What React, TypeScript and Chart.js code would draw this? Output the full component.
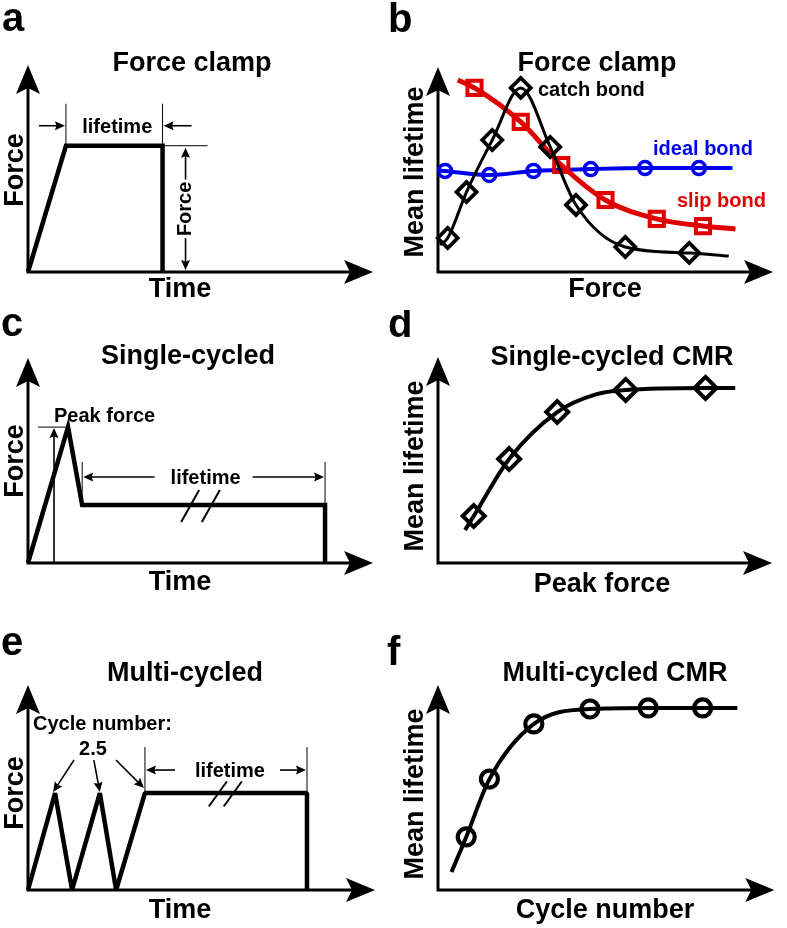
import React, { useEffect, useRef } from 'react';
import { Chart, registerables } from 'chart.js';

Chart.register(...registerables);

const FONT = '"Liberation Sans", Arial, Helvetica, sans-serif';
const RED = '#e00000';
const BLUE = '#0000f0';

// ---------- data (schematic units: both axes run 0 to 10) ----------
// a: force-clamp trace
const clampTime = [0, 1.1, 3.9, 3.9];
const clampForce = [0, 6.1, 6.1, 0];

// b: force-clamp lifetimes
const catchForce = [0.29, 0.85, 1.62, 2.47, 3.35, 4.12, 5.59, 7.5];
const catchLifetime = [1.66, 3.9, 6.44, 8.98, 6.1, 3.27, 1.22, 0.93];
const catchFitForce = [0.06, 0.29, 0.85, 1.62, 2.47, 3.35, 4.12, 5.59, 7.5, 8.68];
const catchFitLifetime = [1.32, 1.66, 3.9, 6.44, 8.98, 6.1, 3.27, 1.22, 0.93, 0.78];

const slipForce = [1.09, 2.47, 3.68, 5.0, 6.53, 7.91];
const slipLifetime = [8.98, 7.32, 5.22, 3.51, 2.59, 2.24];
const slipFitForce = [0.59, 1.09, 2.47, 3.68, 5.0, 6.53, 7.91, 8.88];
const slipFitLifetime = [9.37, 8.98, 7.32, 5.22, 3.51, 2.59, 2.24, 2.1];

const idealForce = [0.21, 1.53, 2.85, 4.56, 6.18, 7.79];
const idealLifetime = [4.93, 4.73, 4.93, 5.02, 5.07, 5.07];
const idealFitForce = [0.06, 0.21, 1.53, 2.85, 4.56, 6.18, 7.79, 8.79];
const idealFitLifetime = [4.95, 4.93, 4.73, 4.93, 5.02, 5.07, 5.07, 5.07];

// c: single-cycled trace
const singleTime = [0, 1.16, 1.57, 8.61, 8.61];
const singleForce = [0, 6.63, 2.83, 2.83, 0];

// d: single-cycled CMR
const peakForce = [1.07, 2.13, 3.57, 5.62, 8.01];
const peakLifetime = [2.28, 5.05, 7.33, 8.4, 8.5];
const peakFitForce = [0.81, 1.07, 2.13, 3.57, 4.75, 5.62, 8.01, 8.9];
const peakFitLifetime = [1.6, 2.28, 5.05, 7.33, 8.2, 8.4, 8.5, 8.5];

// e: multi-cycled trace
const multiTime = [0, 0.78, 1.27, 2.07, 2.54, 3.37, 8.04, 8.04];
const multiForce = [0, 4.73, 0, 4.73, 0, 4.73, 4.73, 0];

// f: multi-cycled CMR
const cycleNumber = [0.84, 1.53, 2.85, 4.52, 6.25, 7.87];
const cycleLifetime = [2.59, 5.41, 8.1, 8.83, 8.88, 8.88];
const cycleFitNumber = [0.4, 0.84, 1.53, 2.85, 4.52, 6.25, 7.87, 8.9];
const cycleFitLifetime = [0.88, 2.59, 5.41, 8.1, 8.83, 8.88, 8.88, 8.88];

// ---------- helpers ----------
const xy = (xs: number[], ys: number[]) => xs.map((x, i) => ({ x, y: ys[i] }));

function headAt(ctx: CanvasRenderingContext2D, tx: number, ty: number, ang: number, len: number, half: number, notch: number) {
  const c = Math.cos(ang), s = Math.sin(ang);
  const pt = (f: number, n: number): [number, number] => [tx + f * c - n * s, ty + f * s + n * c];
  ctx.beginPath();
  ctx.moveTo(tx, ty);
  ctx.lineTo(...pt(-len, half));
  ctx.lineTo(...pt(-len + notch, 0));
  ctx.lineTo(...pt(-len, -half));
  ctx.closePath();
  ctx.fill();
}

function thin(ctx: CanvasRenderingContext2D, x1: number, y1: number, x2: number, y2: number, w = 1) {
  ctx.save();
  ctx.strokeStyle = '#000';
  ctx.lineWidth = w;
  ctx.beginPath();
  ctx.moveTo(x1, y1);
  ctx.lineTo(x2, y2);
  ctx.stroke();
  ctx.restore();
}

function arrow(ctx: CanvasRenderingContext2D, x1: number, y1: number, x2: number, y2: number) {
  const ang = Math.atan2(y2 - y1, x2 - x1);
  const len = 10;
  ctx.save();
  ctx.strokeStyle = '#000';
  ctx.fillStyle = '#000';
  ctx.lineWidth = 1.6;
  ctx.beginPath();
  ctx.moveTo(x1, y1);
  ctx.lineTo(x2 - Math.cos(ang) * (len - 2), y2 - Math.sin(ang) * (len - 2));
  ctx.stroke();
  headAt(ctx, x2, y2, ang, len, 4.5, 1.5);
  ctx.restore();
}

function text(ctx: CanvasRenderingContext2D, s: string, x: number, y: number, size: number, align: CanvasTextAlign = 'center', color = '#000', baseline: CanvasTextBaseline = 'alphabetic') {
  ctx.save();
  ctx.font = `bold ${size}px ${FONT}`;
  ctx.fillStyle = color;
  ctx.textAlign = align;
  ctx.textBaseline = baseline;
  ctx.fillText(s, x, y);
  ctx.restore();
}

function vText(ctx: CanvasRenderingContext2D, s: string, x: number, y: number, size: number, baseline: CanvasTextBaseline = 'alphabetic', clear = false) {
  ctx.save();
  ctx.translate(x, y);
  ctx.rotate(-Math.PI / 2);
  ctx.font = `bold ${size}px ${FONT}`;
  if (clear) {
    const w = ctx.measureText(s).width;
    ctx.fillStyle = '#fff';
    ctx.fillRect(-w / 2 - 2, -size / 2, w + 4, size);
  }
  ctx.fillStyle = '#000';
  ctx.textAlign = 'center';
  ctx.textBaseline = baseline;
  ctx.fillText(s, 0, 0);
  ctx.restore();
}

function slash(ctx: CanvasRenderingContext2D, x: number, y: number, dx: number, dy: number) {
  thin(ctx, x - dx, y + dy, x + dx, y - dy, 2);
}

function drawAxes(ctx: CanvasRenderingContext2D, a: { left: number; right: number; top: number; bottom: number }) {
  ctx.save();
  ctx.strokeStyle = '#000';
  ctx.fillStyle = '#000';
  ctx.lineWidth = 3;
  ctx.lineJoin = 'miter';
  ctx.beginPath();
  ctx.moveTo(a.left, a.top + 20);
  ctx.lineTo(a.left, a.bottom);
  ctx.lineTo(a.right - 20, a.bottom);
  ctx.stroke();
  headAt(ctx, a.left, a.top, -Math.PI / 2, 29, 12, 6);
  headAt(ctx, a.right, a.bottom, 0, 29, 12, 6);
  ctx.restore();
}

const traceDs = (xs: number[], ys: number[], join: CanvasLineJoin) => ({
  data: xy(xs, ys),
  showLine: true,
  borderColor: '#000',
  borderWidth: 4.5,
  borderJoinStyle: join,
  borderCapStyle: 'butt',
  pointRadius: 0,
  tension: 0,
  clip: false,
});

const fitDs = (xs: number[], ys: number[], color: string, width: number) => ({
  data: xy(xs, ys),
  showLine: true,
  borderColor: color,
  borderWidth: width,
  pointRadius: 0,
  cubicInterpolationMode: 'monotone',
  clip: false,
});

const markerDs = (xs: number[], ys: number[], color: string, style: string, radius: number, bw: number) => ({
  data: xy(xs, ys),
  showLine: false,
  pointStyle: style,
  pointRadius: radius,
  pointBorderWidth: bw,
  pointBorderColor: color,
  pointBackgroundColor: 'rgba(0,0,0,0)',
  clip: false,
});

type Cfg = {
  key: string;
  left: number; top: number; width: number; height: number;
  pad: { left: number; top: number; right: number; bottom: number };
  datasets: any[];
  letter: [string, number, number];
  title: [string, number, number];
  xLabel: [string, number, number];
  yLabel: [string, number, number];
  extra?: (chart: any, ctx: CanvasRenderingContext2D) => void;
};

const P = (chart: any) => ({
  X: (v: number) => chart.scales.x.getPixelForValue(v) as number,
  Y: (v: number) => chart.scales.y.getPixelForValue(v) as number,
});

const panels: Cfg[] = [
  {
    key: 'a', left: 0, top: 0, width: 390, height: 310,
    pad: { left: 28, top: 65, right: 17, bottom: 38 },
    datasets: [traceDs(clampTime, clampForce, 'miter')],
    letter: ['a', 2, 31], title: ['Force clamp', 192, 71], xLabel: ['Time', 180, 297], yLabel: ['Force', 23, 170],
    extra: (chart, ctx) => {
      const { X, Y } = P(chart);
      const x1 = X(clampTime[1]), x2 = X(clampTime[2]), yP = Y(clampForce[1]), y0 = Y(0);
      thin(ctx, x1, yP - 42, x1, yP);
      thin(ctx, x2, yP - 42, x2, yP);
      const ya = yP - 20;
      arrow(ctx, x1 - 27, ya, x1 - 1, ya);
      arrow(ctx, x2 + 29, ya, x2 + 1, ya);
      text(ctx, 'lifetime', (x1 + x2) / 2 + 3, ya + 7, 20);
      thin(ctx, x2, yP, x2 + 45, yP);
      const xf = x2 + 23, ym = (yP + y0) / 2;
      arrow(ctx, xf, ym, xf, yP + 2);
      arrow(ctx, xf, ym, xf, y0 - 2);
      vText(ctx, 'Force', xf, ym, 20, 'middle', true);
    },
  },
  {
    key: 'b', left: 380, top: 0, width: 407, height: 310,
    pad: { left: 58, top: 67, right: 9, bottom: 38 },
    datasets: [
      markerDs(catchForce, catchLifetime, '#000', 'rectRot', 10, 3.8),
      fitDs(catchFitForce, catchFitLifetime, '#000', 3),
      markerDs(slipForce, slipLifetime, RED, 'rect', 10, 4),
      fitDs(slipFitForce, slipFitLifetime, RED, 5),
      markerDs(idealForce, idealLifetime, BLUE, 'circle', 6.5, 3.5),
      fitDs(idealFitForce, idealFitLifetime, BLUE, 4),
    ],
    letter: ['b', 8, 32], title: ['Force clamp', 217, 71], xLabel: ['Force', 225, 297], yLabel: ['Mean lifetime', 43, 172],
    extra: (chart, ctx) => {
      text(ctx, 'catch bond', 158, 96, 20, 'left');
      text(ctx, 'ideal bond', 273, 155, 20, 'left', BLUE);
      text(ctx, 'slip bond', 297, 207, 20, 'left', RED);
    },
  },
  {
    key: 'c', left: 0, top: 310, width: 390, height: 300,
    pad: { left: 28, top: 48, right: 17, bottom: 47 },
    datasets: [traceDs(singleTime, singleForce, 'miter')],
    letter: ['c', 1, 26], title: ['Single-cycled', 188, 54], xLabel: ['Time', 180, 280], yLabel: ['Force', 23, 151],
    extra: (chart, ctx) => {
      const { X, Y } = P(chart);
      const px = X(singleTime[1]), py = Y(singleForce[1]);
      const x1 = X(singleTime[2]), x2 = X(singleTime[3]), yP = Y(singleForce[2]), y0 = Y(0);
      thin(ctx, px - 30, py, px, py);
      arrow(ctx, px - 14, y0, px - 14, py + 1);
      text(ctx, 'Peak force', px - 14, py - 5, 20, 'left');
      thin(ctx, x1, yP - 43, x1, yP);
      thin(ctx, x2, yP - 43, x2, yP);
      const ya = yP - 28, mid = (x1 + x2) / 2;
      arrow(ctx, mid - 49, ya, x1 + 1, ya);
      arrow(ctx, mid + 49, ya, x2 - 1, ya);
      text(ctx, 'lifetime', mid + 2, ya + 7, 20);
      slash(ctx, X(4.7), yP + 1, 9, 16);
      slash(ctx, X(5.3), yP + 1, 9, 16);
    },
  },
  {
    key: 'd', left: 380, top: 310, width: 407, height: 300,
    pad: { left: 58, top: 47, right: 2, bottom: 47 },
    datasets: [
      markerDs(peakForce, peakLifetime, '#000', 'rectRot', 11, 4),
      fitDs(peakFitForce, peakFitLifetime, '#000', 4),
    ],
    letter: ['d', 8, 27], title: ['Single-cycled CMR', 232, 55], xLabel: ['Peak force', 222, 282], yLabel: ['Mean lifetime', 43, 156],
  },
  {
    key: 'e', left: 0, top: 610, width: 390, height: 318,
    pad: { left: 28, top: 75, right: 15, bottom: 38 },
    datasets: [traceDs(multiTime, multiForce, 'bevel')],
    letter: ['e', 1, 45], title: ['Multi-cycled', 185, 71], xLabel: ['Time', 180, 308], yLabel: ['Force', 23, 183],
    extra: (chart, ctx) => {
      const { X, Y } = P(chart);
      const yP = Y(multiForce[1]);
      const p1 = X(multiTime[1]), p2 = X(multiTime[3]), p3 = X(multiTime[5]), x2 = X(multiTime[6]);
      text(ctx, 'Cycle number:', X(0) + 5, yP - 63, 20, 'left');
      text(ctx, '2.5', 93, yP - 38, 20);
      arrow(ctx, p1 + 19, yP - 33, p1 - 2, yP - 1);
      arrow(ctx, p2 - 6, yP - 33, p2, yP - 1);
      arrow(ctx, p3 - 29, yP - 33, p3 - 1, yP - 5);
      thin(ctx, p3, yP - 46, p3, yP);
      thin(ctx, x2, yP - 46, x2, yP);
      const ya = yP - 23, mid = (p3 + x2) / 2;
      arrow(ctx, mid - 51, ya, p3 + 1, ya);
      arrow(ctx, mid + 54, ya, x2 - 1, ya);
      text(ctx, 'lifetime', mid + 4, ya + 7, 20);
      slash(ctx, X(5.47), yP + 1, 9, 12.5);
      slash(ctx, X(5.9), yP + 1, 9, 12.5);
    },
  },
  {
    key: 'f', left: 380, top: 610, width: 407, height: 318,
    pad: { left: 58, top: 75, right: 2, bottom: 38 },
    datasets: [
      markerDs(cycleNumber, cycleLifetime, '#000', 'circle', 8.5, 4.2),
      fitDs(cycleFitNumber, cycleFitLifetime, '#000', 4),
    ],
    letter: ['f', 7, 55], title: ['Multi-cycled CMR', 235, 71], xLabel: ['Cycle number', 225, 308], yLabel: ['Mean lifetime', 43, 184],
  },
];

function Panel({ cfg }: { cfg: Cfg }) {
  const ref = useRef<HTMLCanvasElement>(null);
  useEffect(() => {
    const canvas = ref.current;
    if (!canvas) return;
    const chart = new Chart(canvas, {
      type: 'scatter',
      data: { datasets: cfg.datasets },
      options: {
        responsive: false,
        maintainAspectRatio: false,
        animation: false,
        devicePixelRatio: 1,
        events: [],
        layout: { padding: cfg.pad },
        scales: {
          x: { type: 'linear', min: 0, max: 10, display: false },
          y: { type: 'linear', min: 0, max: 10, display: false },
        },
        plugins: { legend: { display: false }, tooltip: { enabled: false } },
      },
      plugins: [
        {
          id: 'schematic-' + cfg.key,
          beforeDatasetsDraw(ch: any) {
            drawAxes(ch.ctx, ch.chartArea);
          },
          afterDraw(ch: any) {
            const ctx = ch.ctx as CanvasRenderingContext2D;
            text(ctx, cfg.letter[0], cfg.letter[1], cfg.letter[2], 40, 'left');
            text(ctx, cfg.title[0], cfg.title[1], cfg.title[2], 27);
            text(ctx, cfg.xLabel[0], cfg.xLabel[1], cfg.xLabel[2], 27);
            vText(ctx, cfg.yLabel[0], cfg.yLabel[1], cfg.yLabel[2], 27);
            if (cfg.extra) cfg.extra(ch, ctx);
          },
        },
      ],
    } as any);
    return () => chart.destroy();
  }, []);
  return (
    <canvas
      ref={ref}
      width={cfg.width}
      height={cfg.height}
      style={{ position: 'absolute', left: cfg.left, top: cfg.top, width: cfg.width, height: cfg.height }}
    />
  );
}

export default function App() {
  return (
    <div style={{ position: 'fixed', left: 0, top: 0, width: 787, height: 928, background: '#fff', overflow: 'hidden' }}>
      {panels.map((p) => (
        <Panel key={p.key} cfg={p} />
      ))}
    </div>
  );
}
